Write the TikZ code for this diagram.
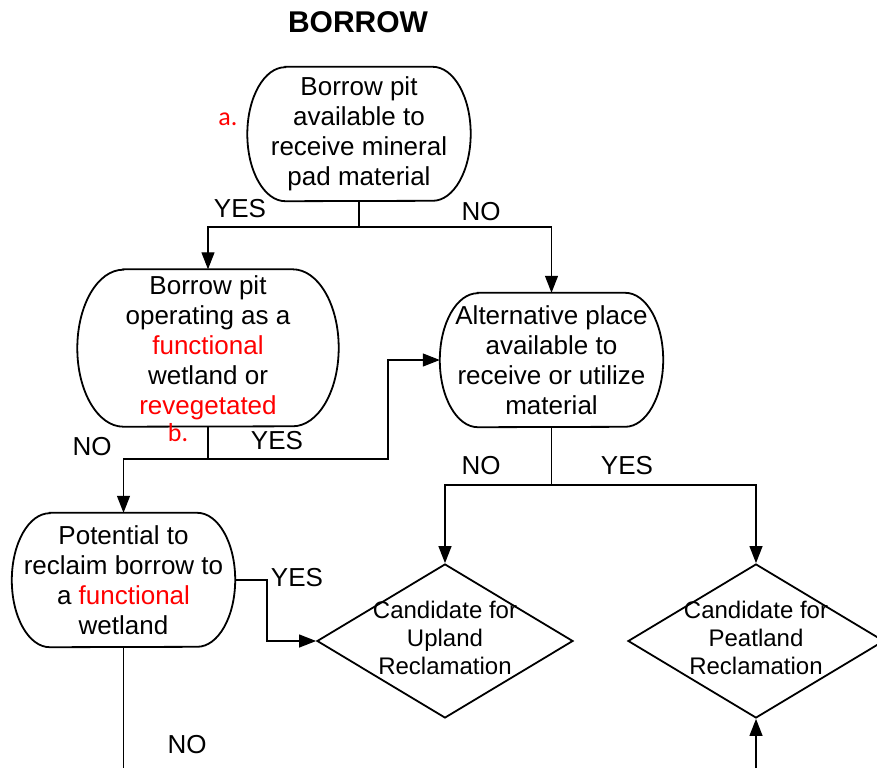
\documentclass[tikz,border=0pt]{standalone}
\usepackage{fontspec}
\setmainfont{Liberation Sans}
\newfontfamily\notefont{Carlito}
\usetikzlibrary{arrows.meta,shapes.geometric}
\tikzset{
  pit/.style={rectangle, minimum width=223pt, minimum height=134pt, inner sep=0pt,
    align=center, font=\fontsize{26}{30}\selectfont},
  cand/.style={draw, line width=1.8pt, diamond, minimum width=256pt, minimum height=154pt, inner sep=0pt},
  candtext/.style={align=center, font=\fontsize{24}{28}\selectfont, inner sep=0pt, yshift=3pt},
  flow/.style={line width=1.2pt, -{Triangle[length=17pt,width=13pt]}},
  wire/.style={line width=1.2pt},
  answer/.style={font=\fontsize{26}{30}\selectfont, inner sep=0pt},
  note/.style={font=\notefont\fontsize{26}{30}\selectfont, text=red, inner sep=0pt}
}
\newcommand{\hl}[1]{\textcolor{red}{#1}}
% outline with half-ellipse ends: node, x radius, y radius
\newcommand{\pitframe}[3]{%
  \draw[line width=1.8pt] ([xshift=#2]#1.north west) -- ([xshift=-#2]#1.north east)
    arc[start angle=90, end angle=-90, x radius=#2, y radius=#3]
    -- ([xshift=#2]#1.south west)
    arc[start angle=270, end angle=90, x radius=#2, y radius=#3] -- cycle;}

\begin{document}
\begin{tikzpicture}[x=1pt,y=-1pt]
   \useasboundingbox (0,0) rectangle (877,768);
   \node[font=\bfseries\fontsize{30}{34}\selectfont] (title) at (358,22) {BORROW};
   % decision boxes
   \node[pit] (avail) at (359,134) {Borrow pit\\available to\\receive mineral\\pad material};
   \node[pit, minimum width=261pt, minimum height=157pt] (operating) at (208,348)
     {Borrow pit\\operating as a\\\hl{functional}\\wetland or\\\hl{revegetated}};
   \node[pit] (altplace) at (551.5,360) {Alternative place\\available to\\receive or utilize\\material};
   \node[pit] (potential) at (123.5,580) {Potential to\\reclaim borrow to\\a \hl{functional}\\wetland};
   \pitframe{avail}{38pt}{67pt}
   \pitframe{operating}{46pt}{78.5pt}
   \pitframe{altplace}{38pt}{67pt}
   \pitframe{potential}{38pt}{67pt}
   \node[cand, label={[candtext]center:Candidate for\\Upland\\Reclamation}] (upland) at (445,641) {};
   \node[cand, label={[candtext]center:Candidate for\\Peatland\\Reclamation}] (peatland) at (756,641) {};
   \node[note] (noteA) at (228,119) {a.};
   \node[note] (noteB) at (178,433) {b.};
   % connectors
   \coordinate (availSplit) at (359,227);
   \draw[wire] (avail.south) -- (availSplit);
   \draw[flow] (availSplit) -| (operating.north);
   \draw[flow] (availSplit) -| (altplace.north);
   \coordinate (opSplit) at (208,459);
   \coordinate (opTurn) at (388,459);
   \draw[wire] (operating.south) -- (opSplit);
   \draw[flow] (opSplit) -| (potential.north);
   \draw[flow] (opSplit) -- (opTurn) |- (altplace.west);
   \coordinate (altSplit) at (551.5,485);
   \draw[wire] (altplace.south) -- (altSplit);
   \draw[flow] (altSplit) -| (upland.north);
   \draw[flow] (altSplit) -| (peatland.north);
   \coordinate (potTurn) at (267,580);
   \draw[flow] (potential.east) -- (potTurn) |- (upland.west);
   \coordinate (potEnd) at (123.5,768);
   \draw[wire] (potential.south) -- (potEnd);
   \coordinate (peatStart) at (756,768);
   \draw[flow] (peatStart) -- (peatland.south);
   % answers
   \node[answer] (yesAvail) at (240,209) {YES};
   \node[answer] (noAvail) at (481,212) {NO};
   \node[answer] (noOp) at (92,447) {NO};
   \node[answer] (yesOp) at (277,441) {YES};
   \node[answer] (noAlt) at (481,466) {NO};
   \node[answer] (yesAlt) at (627,466) {YES};
   \node[answer] (yesPot) at (297,578) {YES};
   \node[answer] (noPot) at (187,745) {NO};
\end{tikzpicture}
\end{document}
